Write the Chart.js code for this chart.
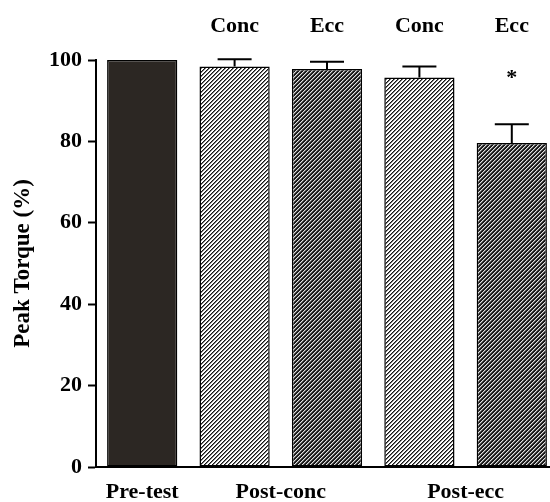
<!DOCTYPE html>
<html>
<head>
<meta charset="utf-8">
<script src="https://cdn.jsdelivr.net/npm/chart.js@4.4.1/dist/chart.umd.min.js"></script>
<style>
  html, body { margin: 0; padding: 0; background: #fff; overflow: hidden; }
  #chart { display: block; }
</style>
</head>
<body>
<!-- plot runs slightly past the right edge of the scan, so the canvas is a bit wider than the window -->
<canvas id="chart" width="558" height="502"></canvas>
<script>
const categories = ['Pre-test', 'Post-conc Conc', 'Post-conc Ecc', 'Post-ecc Conc', 'Post-ecc Ecc']
const groups = ['Pre-test', 'Post-conc', 'Post-conc', 'Post-ecc', 'Post-ecc']
const subLabels = ['', 'Conc', 'Ecc', 'Conc', 'Ecc']
const peakTorque = [100, 98.4, 97.8, 95.7, 79.6]
const peakTorqueSE = [0, 1.8, 1.8, 2.7, 4.6]
const significance = ['', '', '', '', '*']
const barKinds = ['solid', 'light', 'dark', 'light', 'dark']

const FONT = "'Liberation Serif', 'Times New Roman', serif"
const INK = '#000'

// group label positions = mean category index of each group
const groupNames = [...new Set(groups)]
const groupCenters = groupNames.map(g => {
    const idx = groups.map((x, i) => x === g ? i : null).filter(i => i !== null)
    return idx.reduce((s, i) => s + i, 0) / idx.length
})

const makeHatch = (kind) => {
    const tile = document.createElement('canvas')
    tile.width = 4
    tile.height = 4
    const tctx = tile.getContext('2d')
    const img = tctx.createImageData(4, 4)
    for (let y = 0; y < 4; y++) {
        for (let x = 0; x < 4; x++) {
            const d = (x + y) % 4
            let v
            if (kind === 'light') v = d === 0 ? 20 : d === 1 ? 120 : 255
            else v = d === 2 ? 225 : d === 3 ? 110 : 25
            const p = (y * 4 + x) * 4
            img.data[p] = v
            img.data[p + 1] = v
            img.data[p + 2] = v
            img.data[p + 3] = 255
        }
    }
    tctx.putImageData(img, 0, 0)
    return document.getElementById('chart').getContext('2d').createPattern(tile, 'repeat')
}

const fills = {
    solid: '#2c2723',
    light: makeHatch('light'),
    dark: makeHatch('dark')
}

const errorBarPlugin = {
    id: 'errorBars',
    afterDatasetsDraw: (chart) => {
        const { ctx, scales: { y } } = chart
        const meta = chart.getDatasetMeta(0)
        ctx.save()
        ctx.strokeStyle = INK
        ctx.lineWidth = 2
        meta.data.forEach((bar, i) => {
            const err = peakTorqueSE[i]
            if (!err) return
            const yTop = y.getPixelForValue(peakTorque[i] + err)
            ctx.beginPath()
            ctx.moveTo(bar.x, bar.y)
            ctx.lineTo(bar.x, yTop)
            ctx.moveTo(bar.x - 17, yTop)
            ctx.lineTo(bar.x + 17, yTop)
            ctx.stroke()
        })
        // significance marks
        ctx.fillStyle = INK
        ctx.font = `bold 22px ${FONT}`
        ctx.textAlign = 'center'
        ctx.textBaseline = 'middle'
        meta.data.forEach((bar, i) => {
            if (significance[i]) ctx.fillText(significance[i], bar.x, chart.chartArea.top + 18)
        })
        ctx.restore()
    }
}

new Chart(document.getElementById('chart'), {
    type: 'bar',
    data: {
        labels: categories,
        datasets: [{
            label: 'Peak Torque',
            data: peakTorque,
            backgroundColor: barKinds.map(k => fills[k]),
            borderColor: INK,
            borderWidth: 1.5,
            borderSkipped: false,
            barPercentage: 0.76,
            categoryPercentage: 1
        }]
    },
    options: {
        responsive: false,
        animation: false,
        layout: {
            padding: { left: 0, right: 0, top: 0, bottom: 0 }
        },
        plugins: {
            legend: { display: false },
            tooltip: { enabled: false }
        },
        scales: {
            x: {
                type: 'category',
                position: 'top',
                grid: { display: false, drawTicks: false },
                border: { display: false },
                ticks: {
                    color: INK,
                    font: { family: FONT, size: 22, weight: 'bold' },
                    padding: 20,
                    maxRotation: 0,
                    autoSkip: false,
                    callback: (value, index) => subLabels[index]
                },
                afterFit: (scale) => { scale.height = 60 }
            },
            xGroup: {
                type: 'linear',
                position: 'bottom',
                offset: false,
                min: -0.5,
                max: categories.length - 0.5,
                grid: { display: false, drawTicks: false, offset: false },
                border: { display: true, color: INK, width: 2 },
                ticks: {
                    color: INK,
                    font: { family: FONT, size: 22, weight: 'bold' },
                    padding: 12,
                    maxRotation: 0,
                    autoSkip: false,
                    callback: (value, index) => groupNames[index]
                },
                afterBuildTicks: (scale) => {
                    scale.ticks = groupCenters.map(v => ({ value: v }))
                },
                afterFit: (scale) => { scale.height = 35 }
            },
            y: {
                min: 0,
                max: 100,
                grid: {
                    drawOnChartArea: false,
                    drawTicks: true,
                    tickLength: 8,
                    tickWidth: 2,
                    tickColor: INK
                },
                border: { display: true, color: INK, width: 2 },
                ticks: {
                    stepSize: 20,
                    color: INK,
                    padding: 6,
                    font: { family: FONT, size: 22, weight: 'bold' }
                },
                title: {
                    display: true,
                    text: 'Peak Torque (%)',
                    color: INK,
                    padding: { top: 9, bottom: 0 },
                    font: { family: FONT, size: 23, weight: 'bold' }
                },
                afterFit: (scale) => { scale.width = 96 }
            }
        }
    },
    plugins: [errorBarPlugin]
})
</script>
</body>
</html>
